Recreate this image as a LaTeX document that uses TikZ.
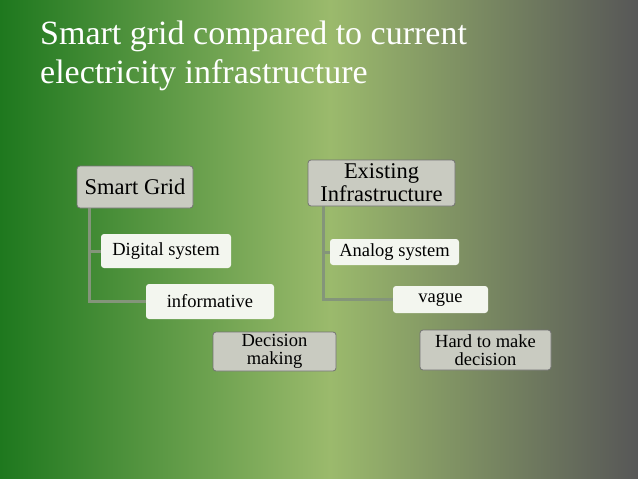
\documentclass[tikz,border=0pt]{standalone}
\usepackage{fontspec}
\setmainfont{Liberation Serif}
\begin{document}
\begin{tikzpicture}[x=1pt,y=-1pt,
  box/.style={draw=black!55,line width=0.8pt,rounded corners=3pt,inner sep=0pt,align=center,text=black},
  headbox/.style={box,fill=boxgray,font=\fontsize{22.5}{23}\selectfont},
  leafbox/.style={draw=none,rounded corners=3pt,inner sep=0pt,align=center,fill=leafwhite,text=black,font=\fontsize{18.5}{18}\selectfont},
  endbox/.style={box,fill=boxgray,font=\fontsize{18.5}{17.5}\selectfont},
  conn/.style={draw=linecol,line width=3pt}]
\definecolor{bgA}{HTML}{1E781E}
\definecolor{bgB}{HTML}{9BBA6C}
\definecolor{bgC}{HTML}{575757}
\definecolor{boxgray}{HTML}{C9CBC1}
\definecolor{leafwhite}{HTML}{F3F6EF}
\definecolor{linecol}{HTML}{84957A}
\useasboundingbox (0,0) rectangle (638,479);
\shade[left color=bgA,right color=bgB] (0,0) rectangle (330,479);
\shade[left color=bgB,right color=bgC] (330,0) rectangle (638,479);
% title
\node[anchor=base west,text=white,font=\fontsize{34}{38}\selectfont,inner sep=0pt] (t1) at (40,45) {Smart grid compared to current};
\node[anchor=base west,text=white,font=\fontsize{34}{38}\selectfont,inner sep=0pt] (t2) at (40,83) {electricity infrastructure};
% left column
\node[headbox,minimum width=116pt,minimum height=42pt] (sg) at (135,187) {Smart Grid};
\node[leafbox,minimum width=130pt,minimum height=34pt] (ds) at (166,251) {Digital system};
\node[leafbox,minimum width=128pt,minimum height=35pt] (inf) at (210,301.5) {informative};
\node[endbox,minimum width=123pt,minimum height=39pt] (dm) at (274.5,351.5) {Decision\\making};
\coordinate (sgl) at (89,208);
\draw[conn] (sgl) |- (inf.west);
\draw[conn] (sgl |- ds.west) -- (ds.west);
% right column
\node[headbox,minimum width=147pt,minimum height=46pt] (ei) at (381.5,183) {Existing\\Infrastructure};
\node[leafbox,minimum width=129pt,minimum height=26pt] (as) at (394.5,252) {Analog system};
\node[leafbox,minimum width=95pt,minimum height=27pt] (vg) at (440.5,299.5) {vague};
\node[endbox,minimum width=131pt,minimum height=40pt] (hd) at (485.5,350) {Hard to make\\decision};
\coordinate (eil) at (323,206);
\draw[conn] (eil) |- (vg.west);
\draw[conn] (eil |- as.west) -- (as.west);
\end{tikzpicture}
\end{document}
